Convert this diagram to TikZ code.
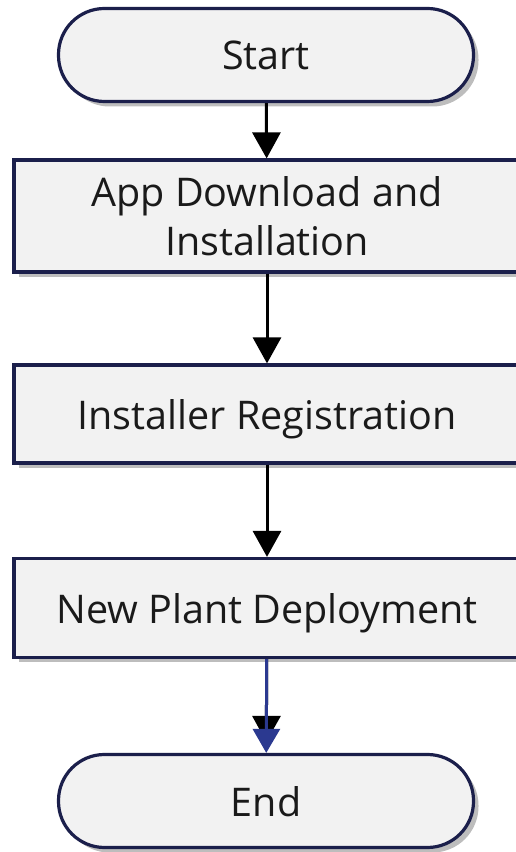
\documentclass[tikz,border=0pt]{standalone}
\usepackage{fontspec}
\setmainfont{Open Sans}
\usepackage{tikz}
\usetikzlibrary{shadows,arrows.meta}
\definecolor{edgec}{HTML}{1B1F4B}
\definecolor{boxfill}{HTML}{F2F2F2}
\definecolor{shadec}{HTML}{BDBDBD}
\definecolor{inkc}{HTML}{1A1A1A}
\definecolor{linkblue}{HTML}{2B3990}

\begin{document}
\begin{tikzpicture}[x=1pt,y=1pt,
  box/.style={draw=edgec,fill=boxfill,line width=3.2pt,text=inkc,
    font=\fontsize{39.5pt}{49pt}\selectfont,align=center,text depth=0pt,
    drop shadow={shadow xshift=5pt,shadow yshift=-5pt,fill=shadec,opacity=1}},
  stepbox/.style={box,minimum width=506pt,inner sep=0pt},
  termbox/.style={box,minimum width=415pt,minimum height=93pt,
    rounded corners=46pt,inner sep=0pt},
  flow/.style={line width=3pt,-{Triangle[length=26pt,width=28pt]}}]
  \useasboundingbox (0,0) rectangle (515,852);
  % terminals and steps, top to bottom
  \node[termbox] (start) at (266,797) {Start};
  \node[stepbox,minimum height=112pt] (app) at (267,636)
    {App Download and\\Installation};
  \node[stepbox,minimum height=98pt] (reg) at (267,438)
    {Installer Registration};
  \node[stepbox,minimum height=99pt] (plant) at (267,244)
    {New Plant Deployment};
  \node[termbox] (end) at (266,51) {End};
  % connectors
  \draw[flow] (start) -- (app);
  \draw[flow] (app) -- (reg);
  \draw[flow] (reg) -- (plant);
  \draw[flow,shorten >=11pt] (plant) -- (end);
  \draw[flow,linkblue,-{Triangle[length=24pt,width=27pt]}] (plant) -- (end);
\end{tikzpicture}
\end{document}
